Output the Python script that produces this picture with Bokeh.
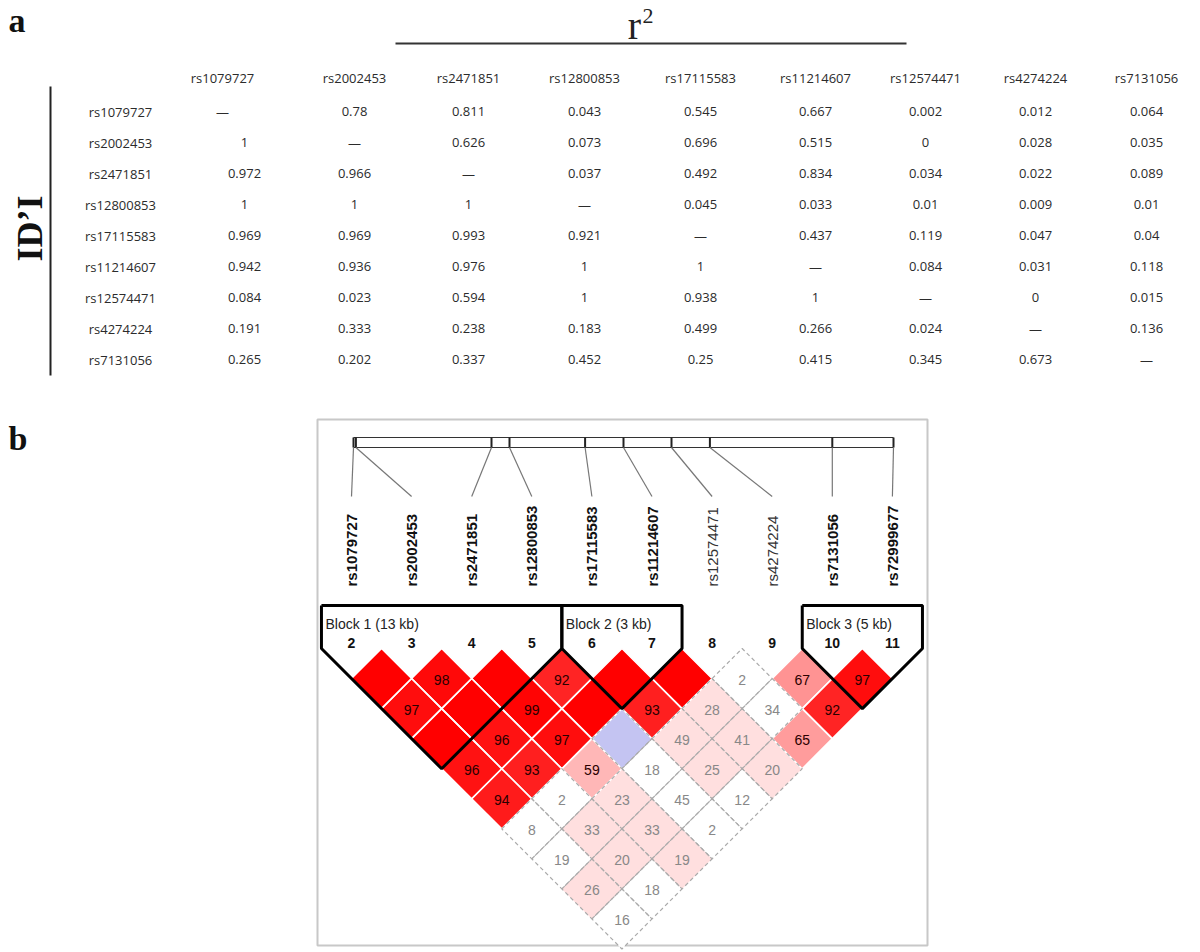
import math
from bokeh.plotting import figure
from bokeh.models import Range1d
from bokeh.core.properties import value
from bokeh.embed import file_html
from bokeh.resources import INLINE

# ---------------- data: panel a (table) ----------------
table_snps = ["rs1079727", "rs2002453", "rs2471851", "rs12800853", "rs17115583",
              "rs11214607", "rs12574471", "rs4274224", "rs7131056"]
# r^2 (upper triangle), row i holds columns i+1..8
r2_upper = [
    [0.78, 0.811, 0.043, 0.545, 0.667, 0.002, 0.012, 0.064],
    [0.626, 0.073, 0.696, 0.515, 0, 0.028, 0.035],
    [0.037, 0.492, 0.834, 0.034, 0.022, 0.089],
    [0.045, 0.033, 0.01, 0.009, 0.01],
    [0.437, 0.119, 0.047, 0.04],
    [0.084, 0.031, 0.118],
    [0, 0.015],
    [0.136],
]
# |D'| (lower triangle), row i+1 holds columns 0..i
dprime_lower = [
    [1],
    [0.972, 0.966],
    [1, 1, 1],
    [0.969, 0.969, 0.993, 0.921],
    [0.942, 0.936, 0.976, 1, 1],
    [0.084, 0.023, 0.594, 1, 0.938, 1],
    [0.191, 0.333, 0.238, 0.183, 0.499, 0.266, 0.024],
    [0.265, 0.202, 0.337, 0.452, 0.25, 0.415, 0.345, 0.673],
]

# ---------------- data: panel b (Haploview LD plot) ----------------
ld_snps = ["rs1079727", "rs2002453", "rs2471851", "rs12800853", "rs17115583",
           "rs11214607", "rs12574471", "rs4274224", "rs7131056", "rs72999677"]
ld_numbers = [2, 3, 4, 5, 6, 7, 8, 9, 10, 11]
ld_pos_kb = [0.0, 0.2, 11.5, 13.0, 19.3, 22.5, 26.5, 29.7, 39.9, 45.0]
ld_bold = [True, True, True, True, True, True, False, False, True, True]
# D' x 100, row i holds pairs (i, i+1..9)
ld_dprime = [
    [100, 97, 100, 96, 94, 8, 19, 26, 16],
    [98, 100, 96, 93, 2, 33, 20, 18],
    [100, 99, 97, 59, 23, 33, 19],
    [92, 100, 100, 18, 45, 2],
    [100, 93, 49, 25, 12],
    [100, 28, 41, 20],
    [2, 34, 65],
    [67, 92],
    [97],
]
# LOD >= 2 flag
ld_sig = [
    [1, 1, 1, 1, 1, 0, 0, 1, 0],
    [1, 1, 1, 1, 0, 1, 1, 0],
    [1, 1, 1, 1, 1, 1, 1],
    [1, 1, 0, 0, 0, 0],
    [1, 1, 1, 1, 0],
    [1, 1, 1, 1],
    [0, 0, 1],
    [1, 1],
    [1],
]
blocks = [(0, 3, "Block 1 (13 kb)"), (4, 5, "Block 2 (3 kb)"), (8, 9, "Block 3 (5 kb)")]

# ---------------- figure ----------------
W, H = 1200, 952
p = figure(width=W, height=H, x_range=Range1d(0, W), y_range=Range1d(H, 0),
           output_backend="svg", toolbar_location=None, min_border=0)
p.axis.visible = False
p.grid.visible = False
p.outline_line_color = None
p.background_fill_color = "white"
p.border_fill_color = "white"

SANS = value("Open Sans")
SERIF = value("Liberation Serif")
ARIAL = value("Liberation Sans")
TXT = "#2b2b2b"

# ---- panel a ----
p.text(x=[8], y=[20], text=["a"], text_font=SERIF, text_font_style="bold",
       text_font_size="34px", text_color="#111111", text_baseline="middle")
p.text(x=[634], y=[25], text=["r"], text_font=SERIF, text_font_size="40px",
       text_color="#222222", text_align="center", text_baseline="middle")
p.text(x=[642], y=[15], text=["2"], text_font=SERIF, text_font_size="22px",
       text_color="#222222", text_align="left", text_baseline="middle")
p.segment(x0=[395], y0=[43], x1=[906], y1=[43], line_color="#333333", line_width=2)

col_x = [222, 354, 468, 584, 700, 815, 925, 1035, 1146]
first_col_value_x = 244
row_y = [111 + 31 * i for i in range(len(table_snps))]
header_y = 77
label_x = 120

p.text(x=col_x, y=[header_y] * len(col_x), text=table_snps, text_font=SANS,
       text_font_size="13px", text_color=TXT, text_align="center", text_baseline="middle")
p.text(x=[label_x] * len(row_y), y=row_y, text=table_snps, text_font=SANS,
       text_font_size="13px", text_color=TXT, text_align="center", text_baseline="middle")

cx, cy, ct = [], [], []
n = len(table_snps)
for i in range(n):
    for j in range(n):
        xpos = col_x[j]
        if i == j:
            s = "\u2014"
        elif j > i:
            s = f"{r2_upper[i][j - i - 1]:g}"
        else:
            s = f"{dprime_lower[i - 1][j]:g}"
            if j == 0:
                xpos = first_col_value_x
        cx.append(xpos); cy.append(row_y[i]); ct.append(s)
p.text(x=cx, y=cy, text=ct, text_font=SANS, text_font_size="13px", text_color=TXT,
       text_align="center", text_baseline="middle")

p.segment(x0=[50], y0=[86], x1=[50], y1=[375], line_color="#222222", line_width=2)
p.text(x=[29], y=[228], text=["ID\u2019I"], text_font=SERIF, text_font_style="bold",
       text_font_size="36px", text_color="#111111", text_align="center",
       text_baseline="middle", angle=math.pi / 2)

# ---- panel b ----
p.text(x=[8], y=[438], text=["b"], text_font=SERIF, text_font_style="bold",
       text_font_size="34px", text_color="#111111", text_baseline="middle")
p.quad(left=[317], right=[927], top=[419], bottom=[945], fill_color=None,
       line_color="#c8c8c8", line_width=2)

x0, dx = 351.0, 60.1
top_y = 648.0
half = dx / 2
snp_x = [x0 + dx * k for k in range(len(ld_snps))]

# physical map bar
bar_left, kb_px = 353.0, 12.0
bar_x = [bar_left + kb_px * v for v in ld_pos_kb]
bar_top, bar_bot = 437, 447
p.segment(x0=[bar_x[0]] * 2, y0=[bar_top, bar_bot], x1=[bar_x[-1]] * 2, y1=[bar_top, bar_bot],
          line_color="#333333", line_width=1.2)
p.segment(x0=bar_x, y0=[bar_top] * len(bar_x), x1=bar_x, y1=[bar_bot] * len(bar_x),
          line_color="#222222", line_width=2)
p.segment(x0=bar_x, y0=[bar_bot] * len(bar_x), x1=snp_x, y1=[496] * len(bar_x),
          line_color="#777777", line_width=1.2)

# SNP names (rotated)
for bold in (True, False):
    idx = [k for k in range(len(ld_snps)) if ld_bold[k] == bold]
    p.text(x=[snp_x[k] for k in idx], y=[586] * len(idx), text=[ld_snps[k] for k in idx],
           text_font=ARIAL, text_font_style="bold" if bold else "normal",
           text_font_size="15px", text_color="#111111" if bold else "#333333",
           text_align="left", text_baseline="middle", angle=math.pi / 2)

# SNP numbers
p.text(x=snp_x, y=[642] * len(snp_x), text=[str(v) for v in ld_numbers], text_font=ARIAL,
       text_font_style="bold", text_font_size="14px", text_color="#111111",
       text_align="center", text_baseline="middle")


def cell_color(d, sig):
    if not sig:
        return "#c4c4f2" if d >= 100 else "#ffffff"
    g = min(223, int(round(446 * (1 - d / 100.0))))
    return "#%02x%02x%02x" % (255, g, g)


xs, ys, fills, strong = [], [], [], []
tx, ty, tt, tcol = [], [], [], []
for i, row in enumerate(ld_dprime):
    for k, d in enumerate(row):
        j = i + 1 + k
        sig = ld_sig[i][k]
        mx = (snp_x[i] + snp_x[j]) / 2
        my = top_y + half * (j - i)
        xs.append([mx - half, mx, mx + half, mx])
        ys.append([my, my - half, my, my + half])
        fills.append(cell_color(d, sig))
        strong.append(bool(sig) and d >= 50)
        if d < 100:
            tx.append(mx); ty.append(my + 1); tt.append(str(d))
            tcol.append("#2a0000" if (sig and d >= 50) else "#888888")

p.patches(xs=xs, ys=ys, fill_color=fills, line_color=None)
s_xs = [a for a, s in zip(xs, strong) if s]
s_ys = [a for a, s in zip(ys, strong) if s]
w_xs = [a for a, s in zip(xs, strong) if not s]
w_ys = [a for a, s in zip(ys, strong) if not s]
p.patches(xs=s_xs, ys=s_ys, fill_color=None, line_color="white", line_width=1.5)
p.patches(xs=w_xs, ys=w_ys, fill_color=None, line_color="#aaaaaa", line_width=1.2,
          line_dash="4 3")
p.text(x=tx, y=ty, text=tt, text_font=ARIAL, text_font_size="14px", text_color=tcol,
       text_align="center", text_baseline="middle")

# haplotype blocks
bx, by = [], []
for a, b, label in blocks:
    xa, xb = snp_x[a], snp_x[b]
    bottom_x = (xa + xb) / 2
    bottom_y = top_y + half + half * (b - a)
    bx.append([xa - half, xb + half, xb + half, bottom_x, xa - half, xa - half])
    by.append([605, 605, top_y, bottom_y, top_y, 605])
p.multi_line(xs=bx, ys=by, line_color="black", line_width=3)
p.text(x=[snp_x[a] - half + 4 for a, b, _ in blocks], y=[623] * len(blocks),
       text=[lab for _, _, lab in blocks], text_font=ARIAL, text_font_size="14px",
       text_color="#222222", text_align="left", text_baseline="middle")

open("out.html", "w").write(file_html(p, INLINE))
